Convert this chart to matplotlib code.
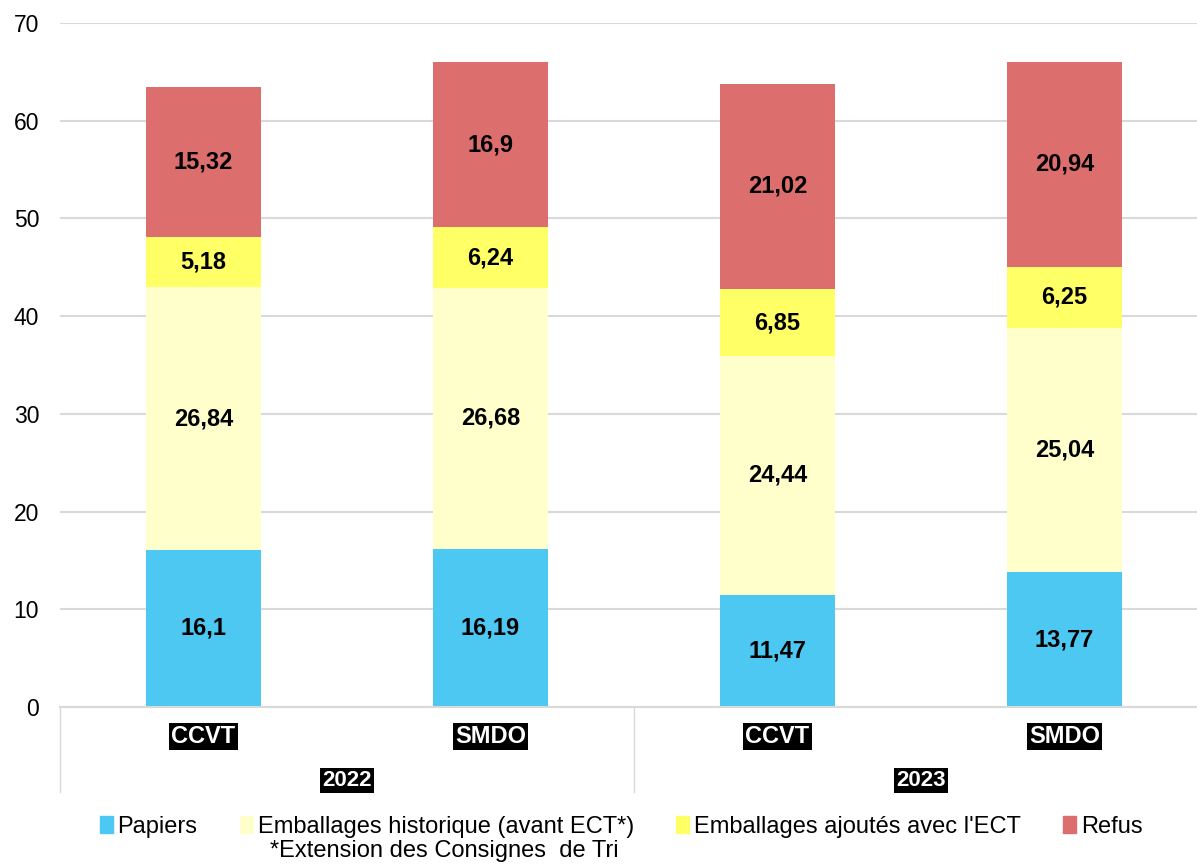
import numpy as np
import matplotlib.pyplot as plt
from matplotlib.patches import Patch

plt.rcParams['font.family'] = ['Liberation Sans', 'DejaVu Sans']

sites = ['CCVT', 'SMDO', 'CCVT', 'SMDO']
years = ['2022', '2023']
papiers = [16.1, 16.19, 11.47, 13.77]
emb_hist = [26.84, 26.68, 24.44, 25.04]
emb_ect = [5.18, 6.24, 6.85, 6.25]
refus = [15.32, 16.9, 21.02, 20.94]

series = [
    ('Papiers', papiers, '#4DC8F2'),
    ('Emballages historique (avant ECT*)', emb_hist, '#FFFFCC'),
    ("Emballages ajoutés avec l'ECT", emb_ect, '#FFFF66'),
    ('Refus', refus, '#DC6E6E'),
]

fig = plt.figure(figsize=(11.97, 8.65), dpi=100)
ax = fig.add_axes([0.0501, 0.1827, 0.959, 0.7907])

x = np.arange(len(sites))
bottom = np.zeros(len(sites))
handles = []
for name, vals, col in series:
    vals = np.array(vals)
    ax.bar(x, vals, 0.4, bottom=bottom, color=col, zorder=2)
    for xi, b, v in zip(x, bottom, vals):
        ax.text(xi, b + v / 2, f'{v:g}'.replace('.', ','), ha='center', va='center',
                fontsize=17, fontweight='bold', zorder=4)
    bottom += vals
    handles.append(Patch(color=col, label=name))

ax.set_xlim(-0.5, 3.5)
ax.set_ylim(0, 70)
ax.set_yticks(range(0, 71, 10))
ax.tick_params(axis='y', length=0, labelsize=16.5, pad=15)
ax.set_xticks([])
# grid drawn over the bars, semi transparent like the original
ax.grid(axis='y', color='black', alpha=0.15, linewidth=1.5, zorder=3)
for s in ['left', 'right', 'top']:
    ax.spines[s].set_visible(False)
ax.spines['bottom'].set_color('#D9D9D9')
ax.spines['bottom'].set_linewidth(1.5)

# category labels (white on black)
trans = ax.get_xaxis_transform()
for xi, s in zip(x, sites):
    ax.text(xi, -0.043, s, transform=trans, ha='center', va='center', color='white',
            fontsize=17, fontweight='bold', bbox=dict(facecolor='black', edgecolor='none', pad=1.5))
for i, yr in enumerate(years):
    ax.text(2 * i + 0.5, -0.107, yr, transform=trans, ha='center', va='center', color='white',
            fontsize=16, fontweight='bold', bbox=dict(facecolor='black', edgecolor='none', pad=1.5))
for sx in [-0.5, 1.5, 3.5]:
    ax.plot([sx, sx], [0, -0.125], transform=trans, color='#D9D9D9', linewidth=1, clip_on=False)

fig.legend(handles=handles, loc='center', bbox_to_anchor=(0.519, 1 - 827 / 865), ncol=4, frameon=False,
           fontsize=17, handlelength=0.55, handleheight=0.7, handletextpad=0.2, columnspacing=1.8,
           borderpad=0, borderaxespad=0)
fig.text(270 / 1197, 1 - 851 / 865, '*Extension des Consignes  de Tri', fontsize=17,
         ha='left', va='center')

fig.savefig('out.png', dpi=100)
